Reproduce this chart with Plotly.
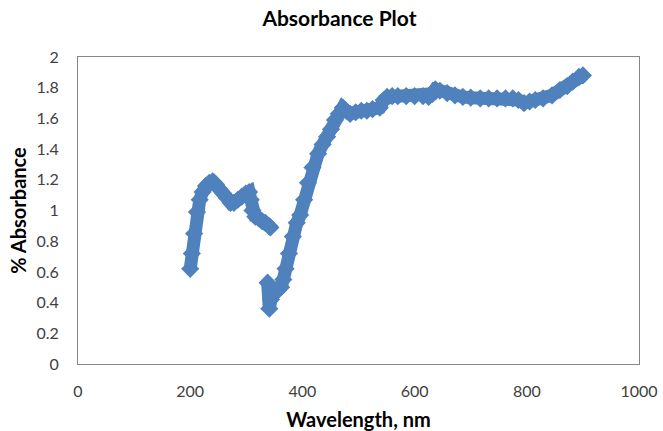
import plotly.graph_objects as go

# UV segment (nm, % absorbance)
wavelength_uv = [200, 203, 207, 212, 217, 222, 228, 234, 240, 246, 252, 259, 266, 272,
                 278, 285, 292, 299, 305, 308, 311, 316, 322, 328, 334, 340, 343]
absorbance_uv = [0.62, 0.72, 0.85, 0.99, 1.07, 1.12, 1.16, 1.18, 1.19, 1.17, 1.14, 1.11, 1.08, 1.05,
                 1.05, 1.07, 1.09, 1.11, 1.12, 1.07, 1.00, 0.96, 0.95, 0.93, 0.92, 0.90, 0.89]

# Visible segment (nm, % absorbance)
wavelength_vis = [338, 341, 344, 350, 356, 362, 366, 370, 376, 383, 390, 396, 403, 410, 418,
                  428, 436, 444, 451, 458, 465, 472, 478, 485, 495, 505, 515, 525, 538, 545,
                  551, 560, 570, 585, 600, 615, 625, 632, 637, 645, 658, 672, 686, 700, 717,
                  732, 747, 762, 775, 785, 795, 805, 815, 829, 845, 859, 872, 882, 893, 900]
absorbance_vis = [0.53, 0.36, 0.42, 0.46, 0.48, 0.50, 0.55, 0.62, 0.72, 0.83, 0.92, 0.97, 1.07, 1.18, 1.28,
                  1.37, 1.43, 1.48, 1.53, 1.59, 1.63, 1.67, 1.65, 1.63, 1.64, 1.65, 1.65, 1.66, 1.67, 1.72,
                  1.74, 1.745, 1.745, 1.745, 1.745, 1.745, 1.74, 1.76, 1.79, 1.78, 1.765, 1.75, 1.74, 1.735, 1.73,
                  1.73, 1.73, 1.73, 1.73, 1.72, 1.70, 1.71, 1.72, 1.73, 1.75, 1.785, 1.81, 1.84, 1.87, 1.88]

x_ticks = [0, 200, 400, 600, 800, 1000]
y_ticks = [0, 0.2, 0.4, 0.6, 0.8, 1, 1.2, 1.4, 1.6, 1.8, 2]

BLUE = "#4F81BD"
fig = go.Figure()
for xs, ys in [(wavelength_uv, absorbance_uv), (wavelength_vis, absorbance_vis)]:
    fig.add_trace(go.Scatter(
        x=xs, y=ys, mode="lines+markers",
        line=dict(color=BLUE, width=13),
        marker=dict(symbol="diamond", size=14, color=BLUE),
        showlegend=False, hoverinfo="x+y",
    ))

font_family = "Lato, 'Open Sans', sans-serif"
fig.update_layout(
    width=663, height=431,
    margin=dict(l=78, r=24, t=57, b=67, autoexpand=False),
    paper_bgcolor="white", plot_bgcolor="white",
    font=dict(family=font_family, color="#404040", size=16),
    title=dict(text="<b>Absorbance Plot</b>", x=0.512, xanchor="center", y=0.956, yanchor="middle",
               font=dict(size=21, color="#000000", family=font_family)),
)
fig.update_xaxes(
    range=[0, 1000], tickvals=x_ticks, showgrid=False, zeroline=False, automargin=False,
    showline=True, linecolor="#868686", linewidth=1, mirror=True, ticks="",
    ticklabelstandoff=13, tickfont=dict(size=16, color="#404040"),
    title=dict(text="<b>Wavelength, nm</b>", font=dict(size=20, color="#000000"), standoff=14),
)
fig.update_yaxes(
    range=[0, 2], tickvals=y_ticks, showgrid=False, zeroline=False, automargin=False,
    showline=True, linecolor="#868686", linewidth=1, mirror=True, ticks="",
    ticklabelstandoff=15, tickfont=dict(size=16, color="#404040"),
    title=dict(text="<b>% Absorbance</b>", font=dict(size=20, color="#000000"), standoff=4),
)
fig.write_html("out.html", config={"displayModeBar": False},
               post_script="document.body.style.margin='0';")
